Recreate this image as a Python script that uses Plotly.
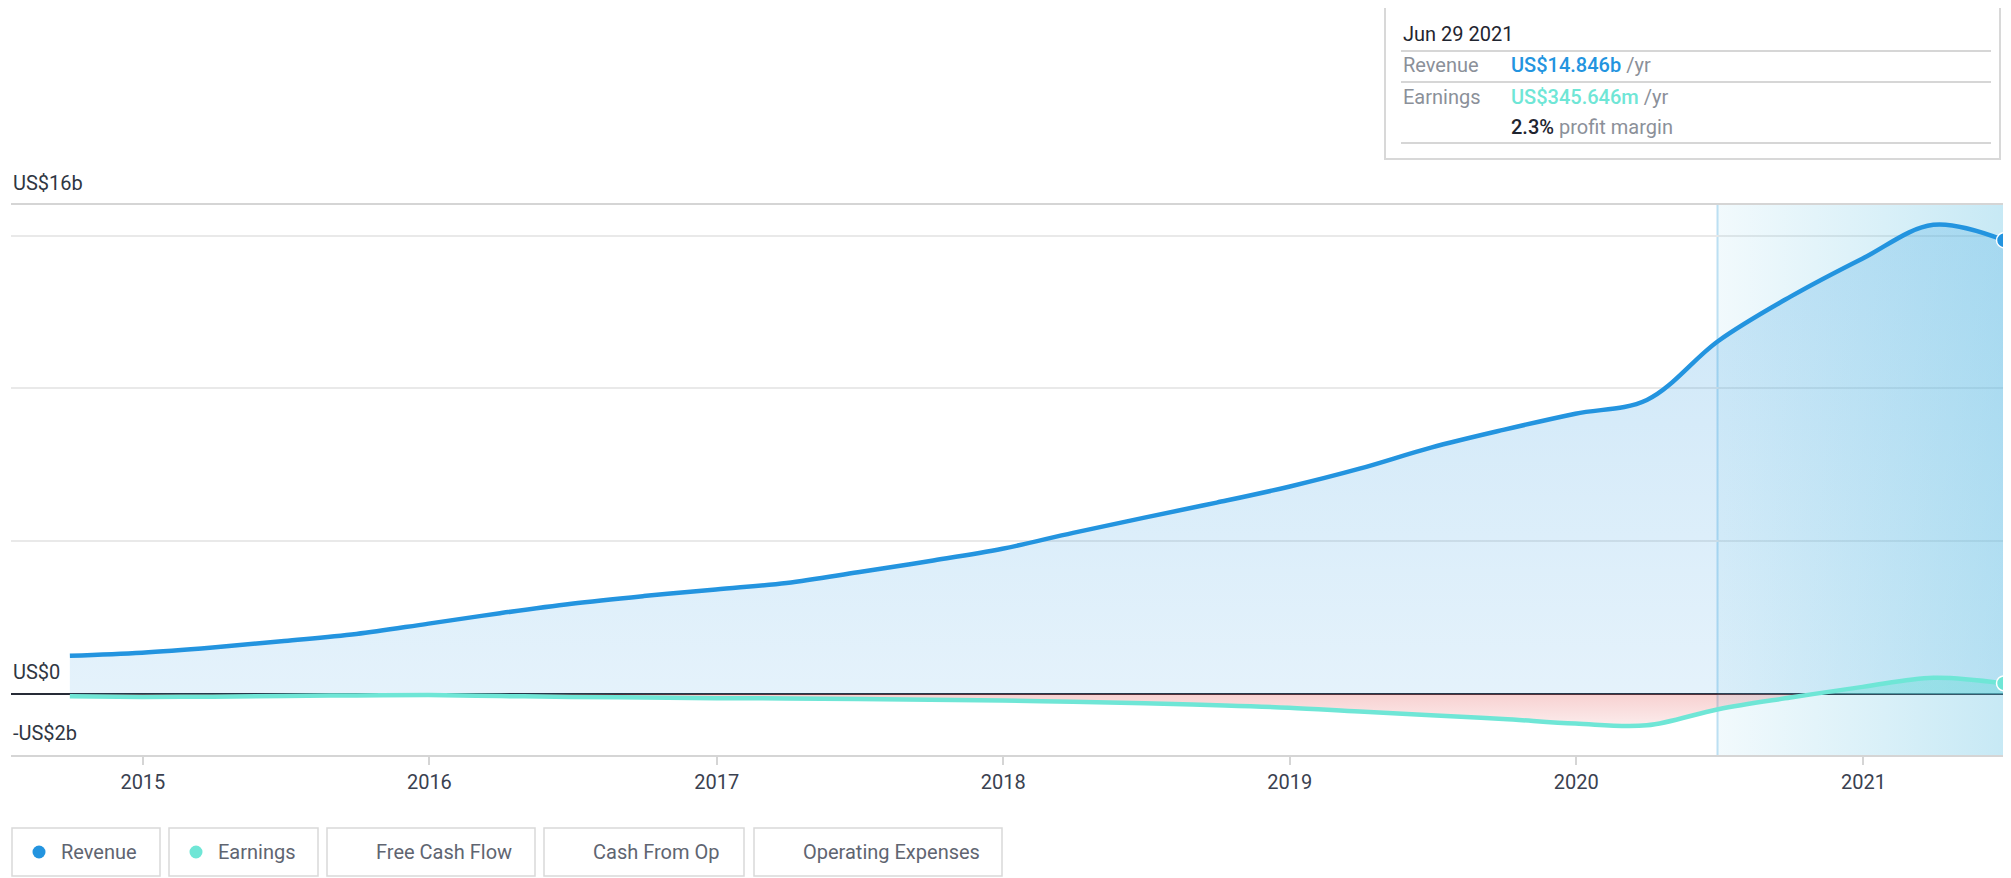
import pandas as pd
import plotly.graph_objects as go

# ---------------- data ----------------
dates = ['2014-09-30', '2014-12-31', '2015-03-31', '2015-06-30', '2015-09-30', '2015-12-31',
         '2016-03-31', '2016-06-30', '2016-09-30', '2016-12-31', '2017-03-31', '2017-06-30',
         '2017-09-30', '2017-12-31', '2018-03-31', '2018-06-30', '2018-09-30', '2018-12-31',
         '2019-03-31', '2019-06-30', '2019-09-30', '2019-12-31', '2020-03-31', '2020-06-30',
         '2020-09-30', '2020-12-31', '2021-03-31', '2021-06-29']
revenue_b = [1.25, 1.35, 1.52, 1.73, 1.96, 2.30, 2.64, 2.95, 3.20, 3.42, 3.63, 3.98,
             4.35, 4.75, 5.27, 5.77, 6.26, 6.78, 7.37, 8.06, 8.64, 9.17, 9.62, 11.55,
             13.0, 14.25, 15.35, 14.846]
earnings_b = [-0.08, -0.10, -0.09, -0.07, -0.05, -0.04, -0.07, -0.10, -0.12, -0.14, -0.15, -0.17,
              -0.19, -0.22, -0.26, -0.31, -0.37, -0.45, -0.58, -0.70, -0.82, -0.97, -1.03, -0.50,
              -0.12, 0.23, 0.53, 0.345646]
year_ticks = ['2015-01-01', '2016-01-01', '2017-01-01', '2018-01-01', '2019-01-01', '2020-01-01', '2021-01-01']
year_labels = ['2015', '2016', '2017', '2018', '2019', '2020', '2021']
y_label_vals = [16, 0, -2]
y_label_text = ['US$16b', 'US$0', '-US$2b']
grid_vals = [5, 10, 15]
y_range = [-2, 16]
x_range = ['2014-07-17', '2021-06-29']
legend_items = ['Revenue', 'Earnings', 'Free Cash Flow', 'Cash From Op', 'Operating Expenses']

# ---------------- styling ----------------
REV = '#2394df'
EARN = '#6fe6d6'
DARK = '#262b36'
GREY = '#8b9099'
FONT = 'Roboto'

OFF = 8  # page body margin
W, H = 2011 - OFF, 878 - OFF
ML, MT = 11 - OFF, 205 - OFF
MR = W - (2004 - OFF)
MB = H - (755 - OFF)
PW = W - ML - MR
PH = H - MT - MB


def px(x):  # screen pixel -> paper x
    return (x - OFF - ML) / PW


def py(y):  # screen pixel -> paper y
    return (H - MB - (y - OFF)) / PH


last = dates[-1]
hl_start = (pd.Timestamp(last) - pd.DateOffset(years=1)).strftime('%Y-%m-%d')

fig = go.Figure()

# revenue area
fig.add_trace(go.Scatter(
    x=dates, y=revenue_b, mode='lines', line=dict(width=0, shape='spline', color=REV),
    fill='tozeroy',
    fillgradient=dict(type='vertical', start=0, stop=16,
                      colorscale=[[0, 'rgba(35,148,223,0.12)'], [1, 'rgba(35,148,223,0.24)']]),
    hoverinfo='skip'))

# earnings area (pink below zero, teal above)
fig.add_trace(go.Scatter(
    x=dates, y=earnings_b, mode='lines', line=dict(width=0, shape='spline', color=EARN),
    fill='tozeroy',
    fillgradient=dict(type='vertical', start=-1.2, stop=1.2,
                      colorscale=[[0, 'rgba(225,70,70,0.08)'], [0.5, 'rgba(225,70,70,0.25)'],
                                  [0.5, 'rgba(111,230,214,0.45)'], [1, 'rgba(111,230,214,0.45)']]),
    hoverinfo='skip'))

# highlighted last year
fig.add_trace(go.Scatter(
    x=[hl_start, last, last, hl_start], y=[y_range[0], y_range[0], y_range[1], y_range[1]],
    mode='lines', line=dict(width=0), fill='toself',
    fillgradient=dict(type='horizontal',
                      colorscale=[[0, 'rgba(90,190,225,0.08)'], [1, 'rgba(90,190,225,0.34)']]),
    hoverinfo='skip'))

# lines
fig.add_trace(go.Scatter(x=dates, y=revenue_b, mode='lines',
                         line=dict(width=4.5, shape='spline', color=REV), hoverinfo='skip'))
fig.add_trace(go.Scatter(x=dates, y=earnings_b, mode='lines',
                         line=dict(width=4.5, shape='spline', color=EARN), hoverinfo='skip'))

# end markers
fig.add_trace(go.Scatter(x=[last], y=[revenue_b[-1]], mode='markers', cliponaxis=False,
                         marker=dict(size=15, color=REV, line=dict(color='white', width=1.5)),
                         hoverinfo='skip'))
fig.add_trace(go.Scatter(x=[last], y=[earnings_b[-1]], mode='markers', cliponaxis=False,
                         marker=dict(size=15, color=EARN, line=dict(color='white', width=1.5)),
                         hoverinfo='skip'))

shapes = []
annotations = []

# highlight edges
for xv in [hl_start, last]:
    shapes.append(dict(type='line', xref='x', yref='paper', x0=xv, x1=xv, y0=0, y1=1,
                       line=dict(color='rgba(150,205,235,0.6)', width=2), layer='below'))
# crosshair to tooltip
shapes.append(dict(type='line', xref='x', yref='paper', x0=last, x1=last, y0=1, y1=py(159),
                   line=dict(color='rgba(150,205,235,0.8)', width=1)))

# y labels
for v, t in zip(y_label_vals, y_label_text):
    annotations.append(dict(xref='paper', yref='y', x=0, y=v, xanchor='left', yanchor='bottom',
                            text=t, showarrow=False, yshift=8,
                            font=dict(family=FONT, size=20, color='#2f3642')))

# tooltip box
shapes.append(dict(type='rect', xref='paper', yref='paper', x0=px(1385), x1=px(2000),
                   y0=py(159), y1=py(5), line=dict(color='#d8d8d8', width=2), fillcolor='white'))
for ly in [51, 82, 143]:
    shapes.append(dict(type='line', xref='paper', yref='paper', x0=px(1401), x1=px(1991),
                       y0=py(ly), y1=py(ly), line=dict(color='#d6d6d6', width=2)))

date_txt = pd.Timestamp(last).strftime('%b %d %Y')
rev_txt = f'US${revenue_b[-1]:.3f}b'
earn_txt = f'US${earnings_b[-1] * 1000:.3f}m'
margin_txt = f'{earnings_b[-1] / revenue_b[-1] * 100:.1f}%'

MED = 'font-weight:500'
tip_rows = [
    (1401, 34, f'<span style="color:#1f2530">{date_txt}</span>'),
    (1401, 65, f'<span style="color:{GREY}">Revenue</span>'),
    (1509, 65, f'<span style="color:{REV};{MED}">{rev_txt}</span><span style="color:{GREY}"> /yr</span>'),
    (1401, 97, f'<span style="color:{GREY}">Earnings</span>'),
    (1509, 97, f'<span style="color:{EARN};{MED}">{earn_txt}</span><span style="color:{GREY}"> /yr</span>'),
    (1509, 127, f'<span style="color:#1f2530;{MED}">{margin_txt}</span><span style="color:{GREY}"> profit margin</span>'),
]
for tx, ty, t in tip_rows:
    annotations.append(dict(xref='paper', yref='paper', x=px(tx), y=py(ty), xanchor='left',
                            yanchor='middle', text=t, showarrow=False,
                            font=dict(family=FONT, size=20, color=GREY)))

# legend buttons
btn_edges = [(12, 160), (169, 318), (327, 535), (544, 744), (754, 1002)]
btn_colors = [REV, EARN, None, None, None]
for (bx0, bx1), name, col in zip(btn_edges, legend_items, btn_colors):
    shapes.append(dict(type='rect', xref='paper', yref='paper', x0=px(bx0), x1=px(bx1),
                       y0=py(876), y1=py(828), line=dict(color='#d9d9d9', width=1.5)))
    if col:
        shapes.append(dict(type='circle', xref='paper', yref='paper', xsizemode='pixel',
                           ysizemode='pixel', xanchor=px(bx0 + 27), yanchor=py(852),
                           x0=-6.5, x1=6.5, y0=-6.5, y1=6.5, fillcolor=col, line=dict(width=0)))
    annotations.append(dict(xref='paper', yref='paper', x=px(bx0 + 47), y=py(852), xanchor='left',
                            yanchor='middle', text=name, showarrow=False,
                            font=dict(family=FONT, size=20, color='#5f6571')))

fig.update_layout(
    width=W, height=H, margin=dict(l=ML, r=MR, t=MT, b=MB),
    plot_bgcolor='white', paper_bgcolor='white', showlegend=False, hovermode=False,
    font=dict(family=FONT, color='#3a4150'),
    shapes=shapes, annotations=annotations,
)
fig.update_xaxes(type='date', range=x_range, tickvals=year_ticks, ticktext=year_labels,
                 ticks='outside', ticklen=8, tickwidth=2, tickcolor='#d5d5d5',
                 showline=True, mirror=True, linecolor='#d5d5d5', linewidth=2,
                 showgrid=False, zeroline=False,
                 tickfont=dict(family=FONT, size=20, color='#3a4150'))
fig.update_yaxes(range=y_range, tickvals=grid_vals, showticklabels=False, showgrid=True,
                 gridcolor='#e9e9e9', gridwidth=2, zeroline=True, zerolinecolor=DARK,
                 zerolinewidth=2, showline=False)

fig.write_html('out.html')
